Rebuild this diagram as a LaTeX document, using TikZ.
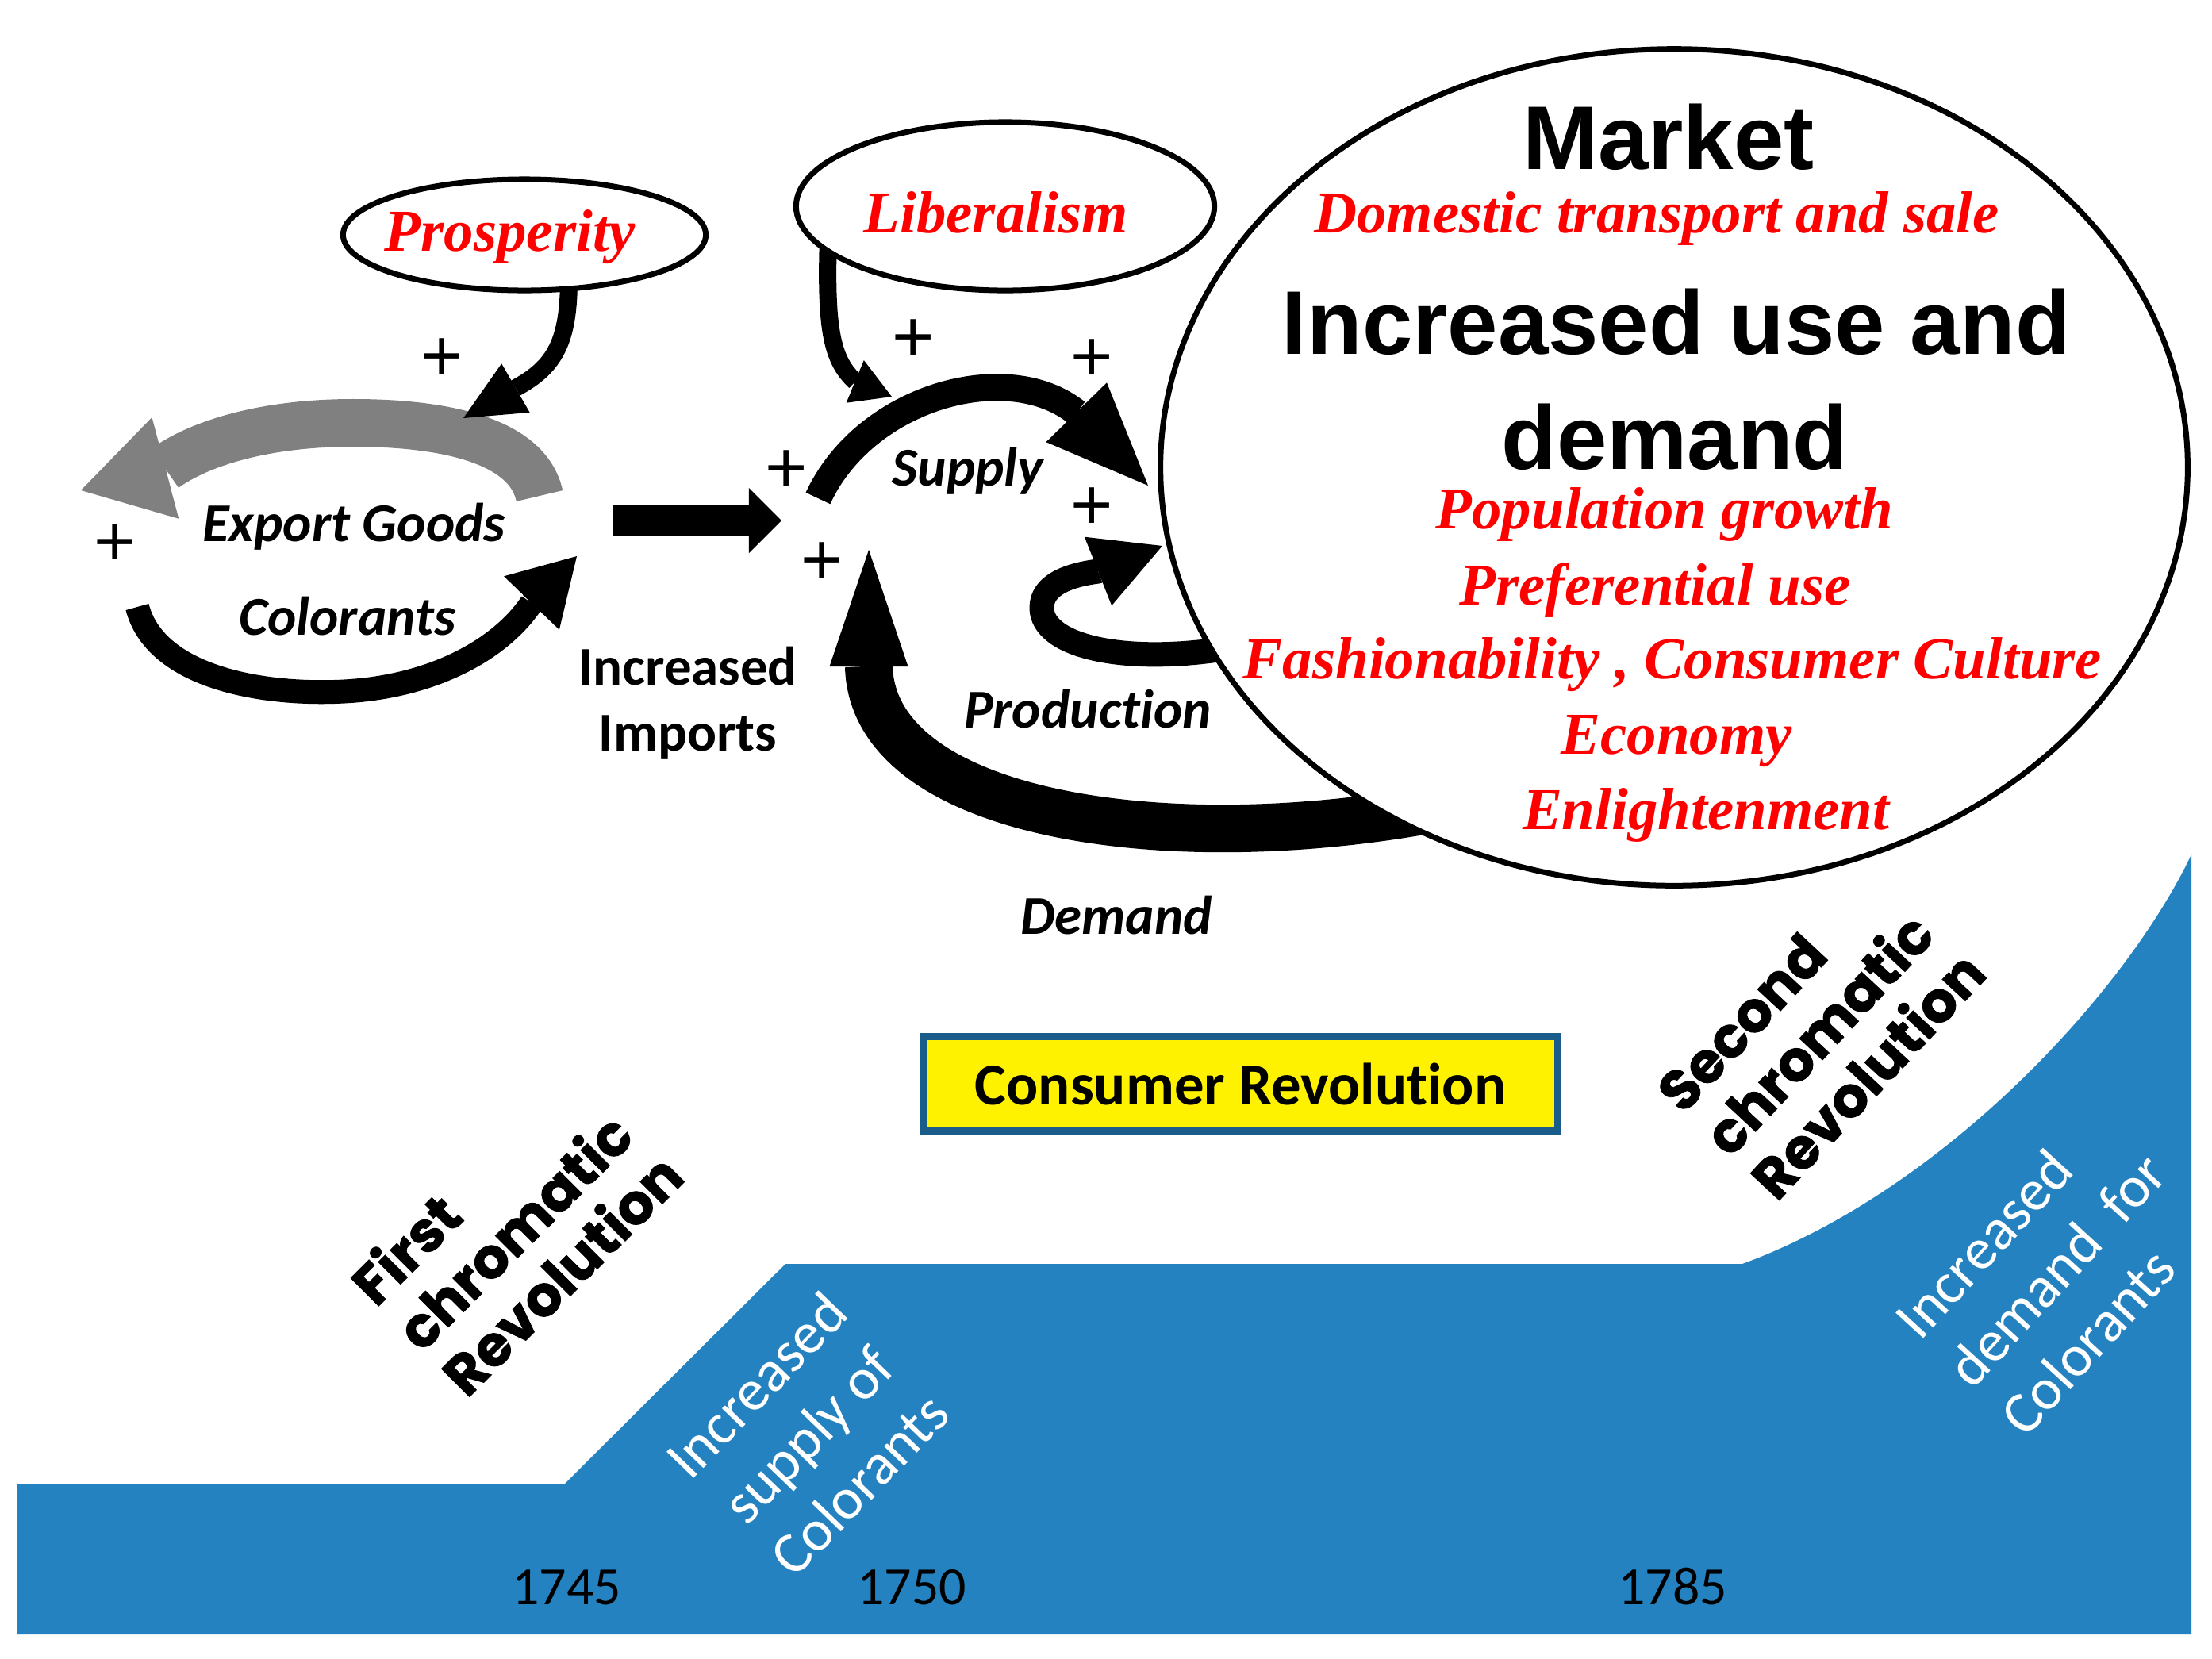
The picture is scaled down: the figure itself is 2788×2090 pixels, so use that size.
\documentclass[tikz,border=0pt]{standalone}
\usepackage{fontspec}
\setmainfont{Carlito}[Ligatures=NoCommon]
\newfontfamily\arialf{Liberation Sans}
\newfontfamily\timesf{Liberation Serif}
\newfontfamily\heavyf{Poppins}[BoldFeatures={FakeBold=1.2}]
\usetikzlibrary{arrows.meta,shapes.geometric}
\definecolor{bluearea}{RGB}{37,130,192}
\definecolor{boxborder}{RGB}{26,92,138}
\definecolor{arrowgray}{RGB}{128,128,128}
\definecolor{redtxt}{RGB}{255,0,0}
\begin{document}
\begin{tikzpicture}[x=0.01cm,y=-0.01cm,
  redtext/.style={text=redtxt,font=\timesf\bfseries\itshape\fontsize{21.3pt}{26pt}\selectfont,anchor=base,inner sep=0pt},
  bigtext/.style={font=\arialf\bfseries\fontsize{32.4pt}{40pt}\selectfont,anchor=base,inner sep=0pt},
  looplabel/.style={font=\bfseries\itshape\fontsize{19.6pt}{24pt}\selectfont,anchor=base,inner sep=0pt},
  plussign/.style={font=\arialf\fontsize{26pt}{30pt}\selectfont,inner sep=0pt},
  yearlabel/.style={font=\fontsize{19.3pt}{23pt}\selectfont,anchor=base,inner sep=0pt},
  oval/.style={draw=black,fill=white,ellipse,line width=0.07cm,inner sep=0pt},
  fat/.style={line cap=butt,line join=round},
  heavytext/.style={font=\heavyf\bfseries\fontsize{20.2pt}{23pt}\selectfont,align=left,inner sep=0pt},
  whitetext/.style={text=white,font=\fontsize{21pt}{25.6pt}\selectfont,inner sep=0pt}
]
\useasboundingbox (0,0) rectangle (2788,2090);
\fill[white] (0,0) rectangle (2788,2090);

% blue timeline area
\fill[bluearea] (21,1870) -- (712,1870) -- (990,1593) -- (2196,1593)
  .. controls (2450,1500) and (2680,1250) .. (2762,1077) -- (2762,2060) -- (21,2060) -- cycle;

% gray export arrow
\coordinate (gS) at (680,625);
\coordinate (gM) at (445,533);
\coordinate (gB) at (208,590);
\coordinate (gT) at (102,618);
\draw[fat,arrowgray,line width=0.6cm,-{Triangle[width=1.32cm,length=1.1cm,line width=0pt]}]
  (gS) .. controls (665,555) and (560,533) .. (gM) .. controls (330,533) and (250,560) .. (gB) -- (gT);

% black colorants arrow
\coordinate (cS) at (173,765);
\coordinate (cM) at (421,872);
\coordinate (cB) at (670,760);
\coordinate (cT) at (727,701);
\draw[fat,line width=0.3cm,-{Triangle[width=0.97cm,length=0.82cm,line width=0pt]}]
  (cS) .. controls (195,850) and (320,875) .. (cM) .. controls (540,869) and (630,820) .. (cB) -- (cT);

% prosperity arrow
\coordinate (pS) at (717,350);
\coordinate (pB) at (650,489);
\coordinate (pT) at (584,527);
\draw[fat,line width=0.22cm,-{Triangle[width=0.71cm,length=0.76cm,line width=0pt]}]
  (pS) .. controls (717,430) and (700,462) .. (pB) -- (pT);

% imports arrow
\coordinate (iS) at (772,656);
\coordinate (iT) at (985,656);
\draw[fat,line width=0.38cm,-{Triangle[width=0.82cm,length=0.41cm,line width=0pt]}] (iS) -- (iT);

% supply arrow
\coordinate (sS) at (1031,628);
\coordinate (sB) at (1357,520);
\coordinate (sT) at (1447,612);
\draw[fat,line width=0.34cm,-{Triangle[width=1.07cm,length=1.29cm,line width=0pt]}]
  (sS) .. controls (1090,500) and (1270,450) .. (sB) -- (sT);

% liberalism arrow
\coordinate (lS) at (1044,300);
\coordinate (lB) at (1078,481);
\coordinate (lT) at (1124,500);
\draw[fat,line width=0.22cm,-{Triangle[width=0.58cm,length=0.50cm,line width=0pt]}]
  (lS) .. controls (1040,420) and (1050,455) .. (lB) -- (lT);

% production loop
\coordinate (prS) at (1560,815);
\coordinate (prL) at (1313,766);
\coordinate (prB) at (1384,720);
\coordinate (prT) at (1465,688);
\draw[fat,line width=0.31cm,-{Triangle[width=0.93cm,length=0.87cm,line width=0pt]}]
  (prS) .. controls (1420,840) and (1313,815) .. (prL) .. controls (1313,738) and (1345,725) .. (prB) -- (prT);

% demand arrow
\coordinate (dS) at (1830,1015);
\coordinate (dB) at (1095,840);
\coordinate (dT) at (1095,693);
\draw[fat,line width=0.6cm,-{Triangle[width=0.99cm,length=1.47cm,line width=0pt]}]
  (dS) .. controls (1480,1085) and (1100,1030) .. (dB) -- (dT);

% ovals
\node[oval,minimum width=4.57cm,minimum height=1.40cm] (prosp) at (661,296) {};
\node[oval,minimum width=5.27cm,minimum height=2.12cm] (liber) at (1267,260) {};
\node[oval,minimum width=12.94cm,minimum height=10.54cm] (market) at (2110,589) {};

% oval texts
\node[redtext] (prosptxt) at (643,316) {Prosperity};
\node[redtext] (libertxt) at (1255,293) {Liberalism};
\node[bigtext] (markettxt) at (2103,213) {Market};
\node[redtext] (domestic) at (2088,293) {Domestic transport and sale};
\node[bigtext] (incuse) at (2113,446) {Increased use and};
\node[bigtext] (demandbig) at (2111,591) {demand};
\node[redtext] (popgrowth) at (2098,666) {Population growth};
\node[redtext] (prefuse) at (2086,762) {Preferential use};
\node[redtext] (fashion) at (2108,855) {Fashionability , Consumer Culture};
\node[redtext] (economy) at (2113,950) {Economy};
\node[redtext] (enlight) at (2150,1045) {Enlightenment};

% loop labels
\node[looplabel] (exportg) at (446,682) {Export Goods};
\node[looplabel] (colorants) at (438,800) {Colorants};
\node[looplabel] (supplytxt) at (1220,612) {Supply};
\node[looplabel] (prodtxt) at (1371,917) {Production};
\node[looplabel] (demandtxt) at (1407,1177) {Demand};
\node[font=\bfseries\fontsize{19.6pt}{23.4pt}\selectfont,align=center,anchor=base,inner sep=0pt] (imports) at (867,946) {Increased\\Imports};

% plus signs
\node[plussign] (p1) at (557,453) {+};
\node[plussign] (p2) at (145,687) {+};
\node[plussign] (p3) at (1151,429) {+};
\node[plussign] (p4) at (1376,454) {+};
\node[plussign] (p5) at (991,594) {+};
\node[plussign] (p6) at (1376,641) {+};
\node[plussign] (p7) at (1036,710) {+};

% consumer revolution box
\node[draw=boxborder,line width=0.09cm,fill=yellow,minimum width=7.99cm,minimum height=1.18cm,inner sep=0pt,
      font=\bfseries\fontsize{21.3pt}{25pt}\selectfont] (consumer) at (1563.5,1366) {Consumer Revolution};

% rotated labels
\node[heavytext,rotate=45] (firstcr) at (650,1548) {First\\chromatic\\Revolution};
\node[heavytext,rotate=47] (secondcr) at (2295,1300) {Second\\chromatic\\Revolution};
\node[whitetext,align=center,rotate=46] (supplycol) at (1018,1808) {Increased\\supply of\\Colorants};
\node[whitetext,align=left,rotate=47.5] (demandcol) at (2592,1600) {Increased\\demand\ \ for\\Colorants};

% years
\node[yearlabel] (y1745) at (714,2022) {1745};
\node[yearlabel] (y1750) at (1149,2022) {1750};
\node[yearlabel] (y1785) at (2108,2022) {1785};
\end{tikzpicture}
\end{document}
